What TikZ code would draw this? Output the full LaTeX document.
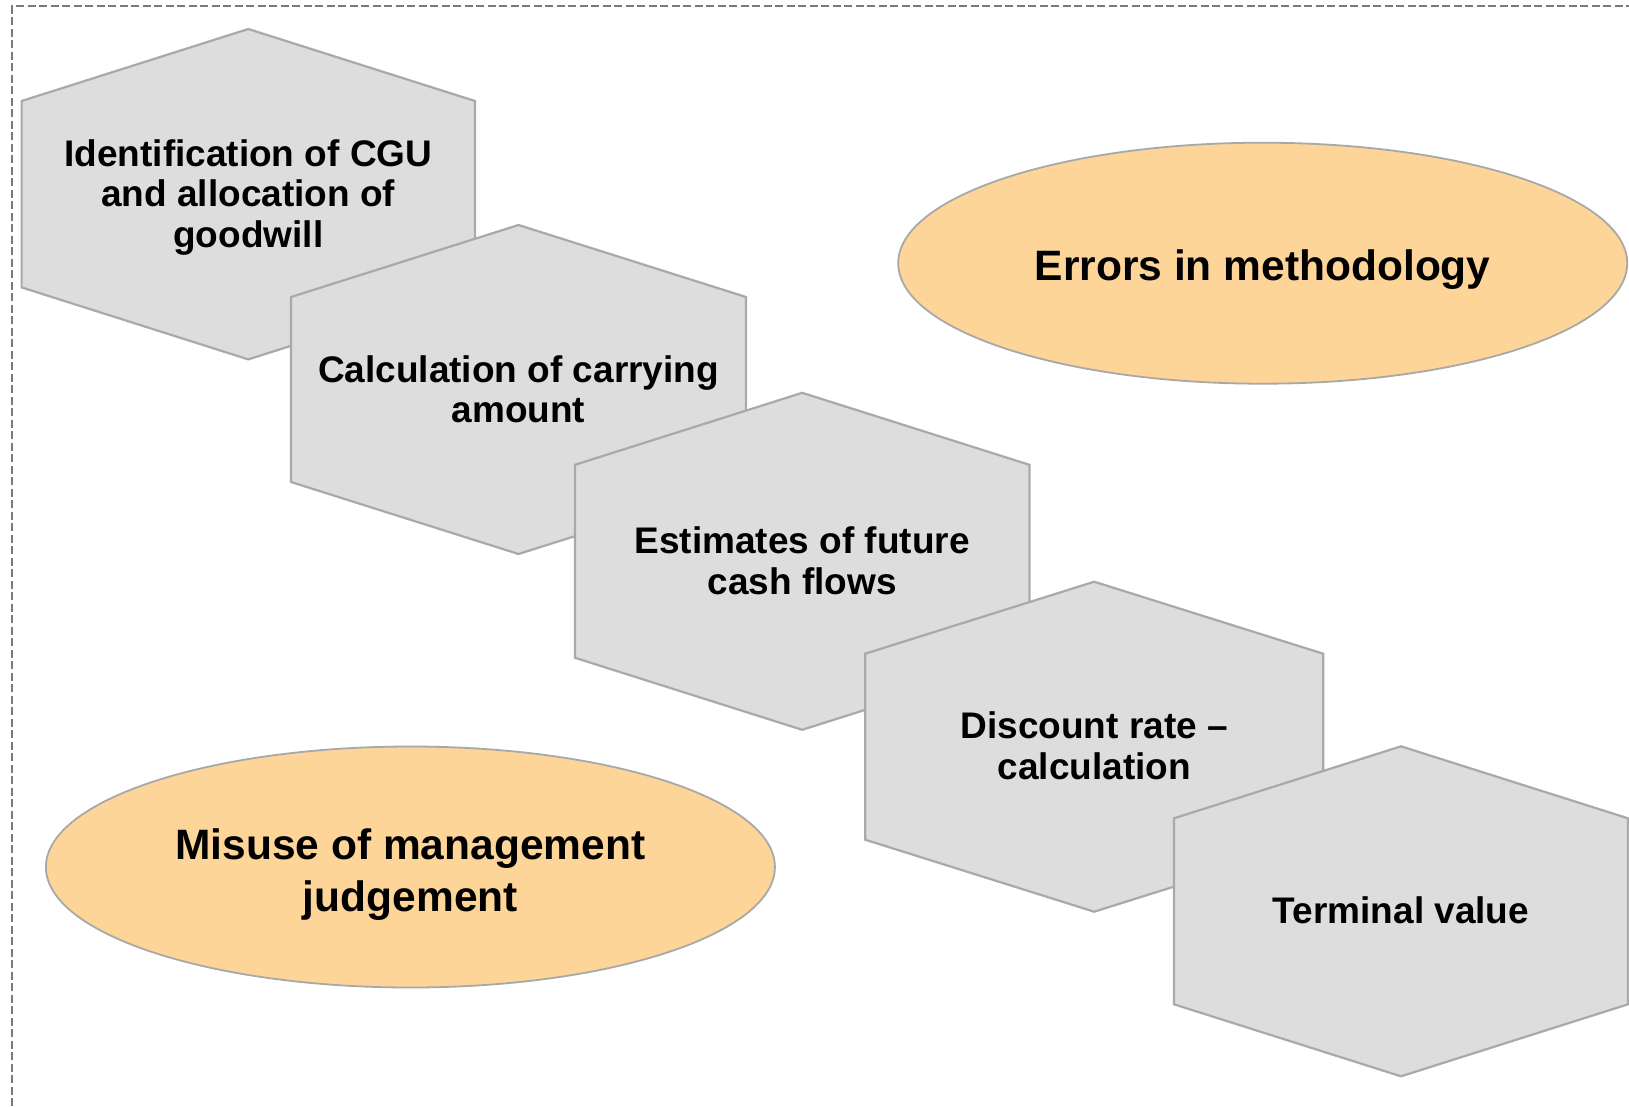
\documentclass[tikz,border=0pt]{standalone}
\usepackage{fontspec}
\setmainfont{Liberation Sans}
\usetikzlibrary{shapes.geometric}

\definecolor{hexfill}{HTML}{DDDDDD}
\definecolor{hexedge}{HTML}{A9A9A9}
\definecolor{ovalfill}{HTML}{FDD598}
\definecolor{ovaledge}{HTML}{A8A8A8}
\definecolor{frameedge}{HTML}{7A7A7A}

\tikzset{
  hexline/.style={fill=hexfill, draw=hexedge, line width=2.2pt},
  hexlabel/.style={align=center, inner sep=0pt, font=\fontsize{37}{40.5}\selectfont\bfseries},
  oval/.style={ellipse, fill=ovalfill, draw=ovaledge, line width=1.8pt,
    minimum width=729pt, minimum height=241pt, inner sep=0pt},
  ovallabel/.style={align=center, inner sep=0pt,
    font=\fontsize{42.5}{52}\selectfont\bfseries},
  framedash/.style={draw=frameedge, line width=2.4pt, dash pattern=on 8pt off 3.5pt}
}

% one stretched hexagon with its caption:
% name, x, y, half width, half height, caption shift, text
\newcommand\hexcell[7]{%
  \filldraw[hexline] (#2,#3) +(0,-#5) -- +(#4,-#5+72) -- +(#4,#5-72) -- +(0,#5)
    -- +(-#4,#5-72) -- +(-#4,-#5+72) -- cycle;
  \node[hexlabel] (#1) at (#2,#3+#6) {#7};
}

\begin{document}
\begin{tikzpicture}[x=1pt, y=-1pt]
  \useasboundingbox (0,0) rectangle (1629,1106);

  % dashed outer frame, open to the right and bottom
  \coordinate (frameTL) at (12,6);
  \coordinate (frameTR) at (1629,6);
  \coordinate (frameBL) at (12,1106);
  \draw[framedash] (frameBL) -- (frameTL) -- (frameTR);

  % process steps, each overlapping the previous one
  \hexcell{cgu}{248.3}{194.2}{226.7}{165.2}{3.2}{Identification of CGU\\and allocation of\\goodwill}
  \hexcell{carrying}{518.5}{389.5}{227.5}{164.5}{0}{Calculation of carrying\\amount}
  \hexcell{cashflows}{802.2}{561.3}{227.2}{168.5}{-0.5}{Estimates of future\\cash flows}
  \hexcell{discount}{1094.2}{746.7}{229}{165}{-1}{Discount rate --\\calculation}
  \hexcell{terminal}{1401}{911.3}{227}{165}{-1.5}{Terminal value}

  % error categories
  \node[oval] (methodology) at (1262.7,263.2) {};
  \node[ovallabel] (methodologyText) at (1262.7,269.4) {Errors in methodology};
  \node[oval] (judgement) at (410.4,867) {};
  \node[ovallabel] (judgementText) at (410.4,874.3) {Misuse of management\\judgement};
\end{tikzpicture}
\end{document}
